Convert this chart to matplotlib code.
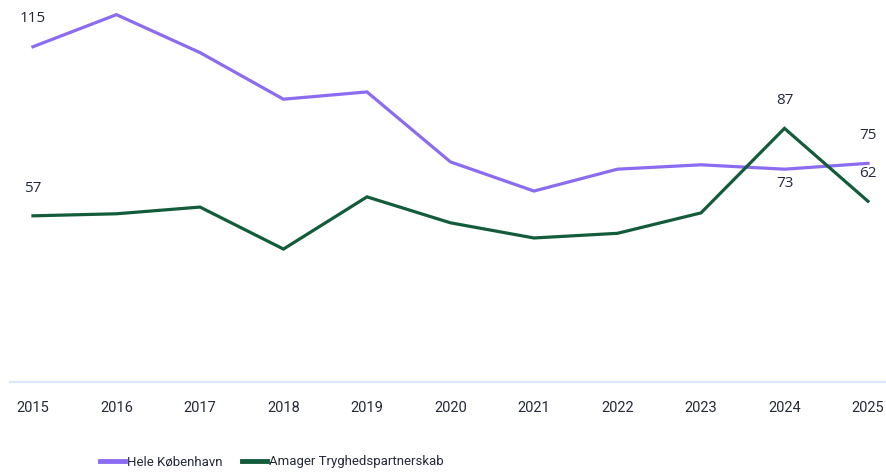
import matplotlib.pyplot as plt

years = [2015, 2016, 2017, 2018, 2019, 2020, 2021, 2022, 2023, 2024, 2025]
kbh = [115, 126, 113, 97, 99.5, 75.5, 65.5, 73, 74.5, 73, 75]
amager = [57, 57.7, 60, 45.6, 63.5, 54.6, 49.4, 51, 58, 87, 62]
names = ['Hele København', 'Amager Tryghedspartnerskab']

purple = '#8b6cf0'
green = '#135c3b'
txt = '#252a3a'
narrow = ['Roboto', 'DejaVu Sans']

plt.rcParams['font.family'] = ['Open Sans', 'DejaVu Sans']

fig = plt.figure(figsize=(8.87, 4.74), dpi=100)
ax = fig.add_axes([10/887, 92/474, 877/887, 379/474])

ax.plot(years, kbh, color=purple, lw=2.3, label=names[0], solid_joinstyle='miter')
ax.plot(years, amager, color=green, lw=2.3, label=names[1], solid_joinstyle='miter')

### value labels: first, 2024 and last point
for i in [0, 9, 10]:
    dy = -10 if i == 9 else 20
    ax.annotate(f'{kbh[i]:.0f}', (years[i], kbh[i]), xytext=(0, dy), textcoords='offset points',
                ha='center', va='center', fontsize=11, color=txt)
    ax.annotate(f'{amager[i]:.0f}', (years[i], amager[i]), xytext=(0, 20), textcoords='offset points',
                ha='center', va='center', fontsize=11, color=txt)

ax.set_xlim(2014.725, 2025.228)
ax.set_ylim(0, 130)
ax.set_xticks(years)
ax.set_xticklabels([str(y) for y in years], fontsize=10.5, color=txt, family=narrow)
ax.tick_params(axis='x', length=0, pad=14)
ax.set_yticks([])
for s in ['top', 'right', 'left']:
    ax.spines[s].set_visible(False)
ax.spines['bottom'].set_color('#dce6f8')
ax.spines['bottom'].set_linewidth(1.5)

leg = fig.legend(loc='center', bbox_to_anchor=(272/887, 1 - 462/474), ncol=2, frameon=False,
                 prop={'family': narrow, 'size': 9.5}, handlelength=1.9, handletextpad=0.15,
                 columnspacing=1.5, labelcolor=txt)
for h in leg.legend_handles:
    h.set_linewidth(3.5)

fig.savefig('out.png', dpi=100)
